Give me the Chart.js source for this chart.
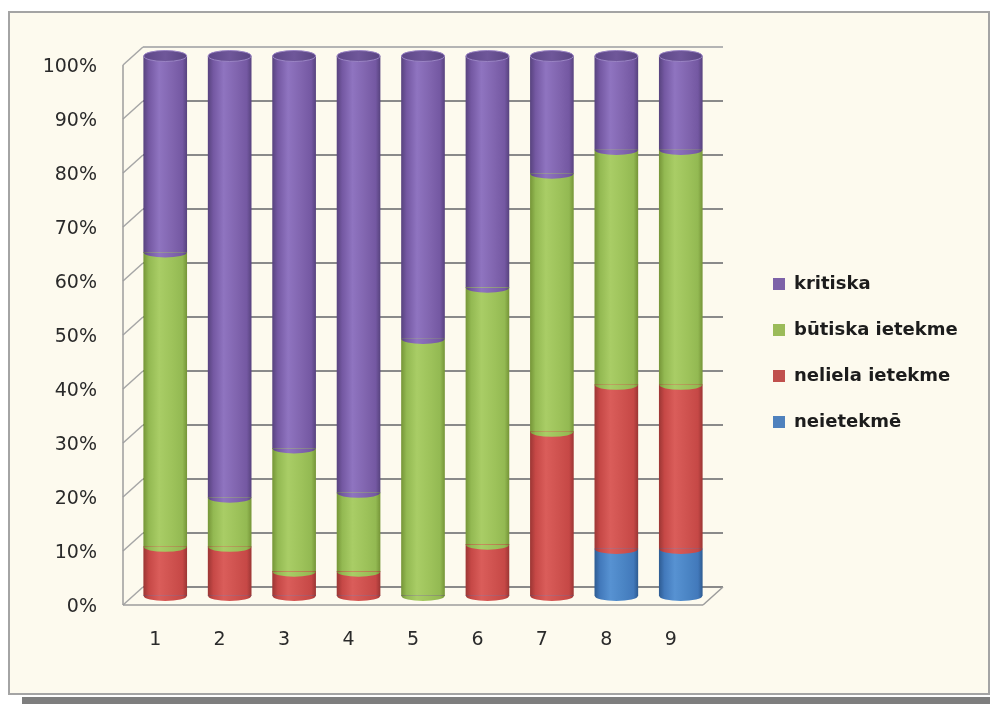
<!DOCTYPE html>
<html>
<head>
<meta charset="utf-8">
<script src="https://cdn.jsdelivr.net/npm/chart.js@4/dist/chart.umd.min.js"></script>
<style>
  html, body { margin:0; padding:0; background:#fff; }
  #frame { position:absolute; left:8px; top:11px; width:978px; height:680px; border:2px solid #a4a4a4; background:#fdfaee; }
  #shadow { position:absolute; left:22px; top:697px; width:968px; height:7px; background:#7e7e7e; }
  #c { position:absolute; left:0; top:0; }
</style>
</head>
<body>
<div id="frame"></div>
<div id="shadow"></div>
<canvas id="c" width="990" height="704"></canvas>
<script>
const categories = ["1","2","3","4","5","6","7","8","9"];
const yTicks = [0,10,20,30,40,50,60,70,80,90,100];

// shares per answer, %
const neietekme      = [0, 0, 0, 0, 0, 0, 0, 8.7, 8.7];
const nelielaIetekme = [9.1, 9.1, 4.5, 4.5, 0, 9.5, 30.4, 30.4, 30.4];
const butiskaIetekme = [54.5, 9.1, 22.8, 14.6, 47.6, 47.6, 47.8, 43.5, 43.5];
const kritiska       = [36.4, 81.8, 72.7, 80.9, 52.4, 42.9, 21.8, 17.4, 17.4];

const DX = 10, DY = 9, RY = 5, BAR_W = 43;
const LEGEND_W = 277;

// colour sets for the fake cylinder shading: [flat, dark, mid, light, base]
const shades = {
  purple: ["#8064a2", "#594480", "#7458a2", "#8f74c0", "#8064ae"],
  green:  ["#9bbb59", "#779739", "#93b952", "#a9cd66", "#9dc25a"],
  red:    ["#c0504d", "#9e3735", "#c64846", "#da5d5a", "#ce514e"],
  blue:   ["#4f81bd", "#2f5d94", "#4279bb", "#5792d2", "#4a84c4"]
};
const legendColors = ["#4f81bd", "#c0504d", "#9bbb59", "#7d62a8"];

function cyl(set) {
  const [flat, dark, mid, light, base] = shades[set];
  return (c) => {
    const chart = c.chart;
    if (c.type !== "data" || !chart.chartArea || c.dataIndex == null) return flat;
    const x = chart.scales.x.getPixelForValue(c.dataIndex);
    const g = chart.ctx.createLinearGradient(x - BAR_W / 2, 0, x + BAR_W / 2, 0);
    g.addColorStop(0, dark);
    g.addColorStop(0.12, mid);
    g.addColorStop(0.36, light);
    g.addColorStop(0.68, base);
    g.addColorStop(0.9, mid);
    g.addColorStop(1, dark);
    return g;
  };
}

// back wall / floor grid, drawn offset to look 3d
const gridPlugin = {
  id: "grid3d",
  beforeDatasetsDraw(chart) {
    const { ctx, chartArea: a, scales: { y } } = chart;
    const xfL = a.left - DX, xbL = a.left + DX, xfR = a.right - DX, xbR = a.right + DX;
    const line = (x1, y1, x2, y2) => { ctx.beginPath(); ctx.moveTo(x1, y1); ctx.lineTo(x2, y2); ctx.stroke(); };
    ctx.save();
    y.ticks.forEach(t => {
      const py = y.getPixelForValue(t.value);
      ctx.lineWidth = 2;
      ctx.strokeStyle = t.value === 100 ? "#b4b4b4" : "#8a8a8a";
      line(xbL, py - DY, xbR, py - DY);
      ctx.lineWidth = 1.5;
      ctx.strokeStyle = "#a6a6a6";
      line(xfL, py + DY, xbL, py - DY);
    });
    const y0 = y.getPixelForValue(0), y100 = y.getPixelForValue(100);
    ctx.lineWidth = 1.5;
    ctx.strokeStyle = "#9c9c9c";
    line(xfL, y100 + DY, xfL, y0 + DY);
    line(xfL, y0 + DY, xfR, y0 + DY);
    line(xfR, y0 + DY, xbR, y0 - DY);
    ctx.restore();
  },
  afterDatasetsDraw(chart) {
    const ctx = chart.ctx;
    const n = chart.data.datasets.length;
    ctx.save();
    for (let d = 0; d < n; d++) {
      const meta = chart.getDatasetMeta(d);
      meta.data.forEach((bar, i) => {
        if (!chart.data.datasets[d].data[i]) return;
        const rx = bar.width / 2;
        ctx.fillStyle = bar.options.backgroundColor;
        ctx.beginPath();
        ctx.ellipse(bar.x, bar.base, rx, RY, 0, 0, Math.PI);
        ctx.fill();
        if (d === n - 1) {
          const g = ctx.createLinearGradient(bar.x - rx, 0, bar.x + rx, 0);
          g.addColorStop(0, "#5d4787");
          g.addColorStop(0.5, "#6f579a");
          g.addColorStop(1, "#5a4582");
          ctx.fillStyle = g;
          ctx.beginPath();
          ctx.ellipse(bar.x, bar.y, rx, RY + 0.5, 0, 0, Math.PI * 2);
          ctx.fill();
          ctx.strokeStyle = "#9a84c4";
          ctx.lineWidth = 1;
          ctx.stroke();
        }
      });
    }
    ctx.restore();
  }
};

// keep the legend column a fixed width and place it like the original
const legendPlugin = {
  id: "legendPlace",
  beforeLayout(chart) {
    const lg = chart.legend;
    if (lg && !lg._fixed) {
      const fit = lg.fit;
      lg.fit = function () { fit.call(this); this.width = LEGEND_W; };
      lg._fixed = true;
    }
  },
  afterLayout(chart) {
    const lg = chart.legend;
    const h = lg.bottom - lg.top;
    lg.left = 745; lg.right = lg.left + LEGEND_W;
    lg.top = 247; lg.bottom = lg.top + h;
  }
};

const tickFont = { family: "DejaVu Sans", size: 19 };

new Chart(document.getElementById("c"), {
  type: "bar",
  data: {
    labels: categories,
    datasets: [
      { label: "neietekmē", data: neietekme, backgroundColor: cyl("blue") },
      { label: "neliela ietekme", data: nelielaIetekme, backgroundColor: cyl("red") },
      { label: "būtiska ietekme", data: butiskaIetekme, backgroundColor: cyl("green") },
      { label: "kritiska", data: kritiska, backgroundColor: cyl("purple") }
    ]
  },
  options: {
    responsive: false,
    animation: false,
    barThickness: BAR_W,
    borderWidth: 0,
    layout: { padding: { top: 56, right: 0, left: 0, bottom: 0 } },
    plugins: {
      tooltip: { enabled: false },
      legend: {
        position: "right",
        align: "start",
        reverse: true,
        labels: {
          boxWidth: 12,
          boxHeight: 12,
          padding: 28,
          color: "#1c1c1c",
          font: { family: "DejaVu Sans", size: 18, weight: "bold" },
          generateLabels(chart) {
            const items = Chart.defaults.plugins.legend.labels.generateLabels(chart);
            items.forEach(it => {
              it.fillStyle = legendColors[it.datasetIndex];
              it.strokeStyle = legendColors[it.datasetIndex];
              it.lineWidth = 0;
            });
            return items;
          }
        }
      }
    },
    scales: {
      x: {
        stacked: true,
        grid: { display: false, drawTicks: false },
        border: { display: false },
        ticks: { font: tickFont, color: "#2a2a2a", padding: 33, labelOffset: -10 },
        afterFit: (s) => { s.height = 108; }
      },
      y: {
        stacked: true,
        min: 0,
        max: 100,
        grid: { display: false, drawTicks: false },
        border: { display: false },
        afterBuildTicks: (s) => { s.ticks = yTicks.map(v => ({ value: v })); },
        ticks: { font: tickFont, color: "#2a2a2a", padding: 36, labelOffset: 11, callback: (v) => v + "%" },
        afterFit: (s) => { s.width = 133; }
      }
    }
  },
  plugins: [gridPlugin, legendPlugin]
});
</script>
</body>
</html>
